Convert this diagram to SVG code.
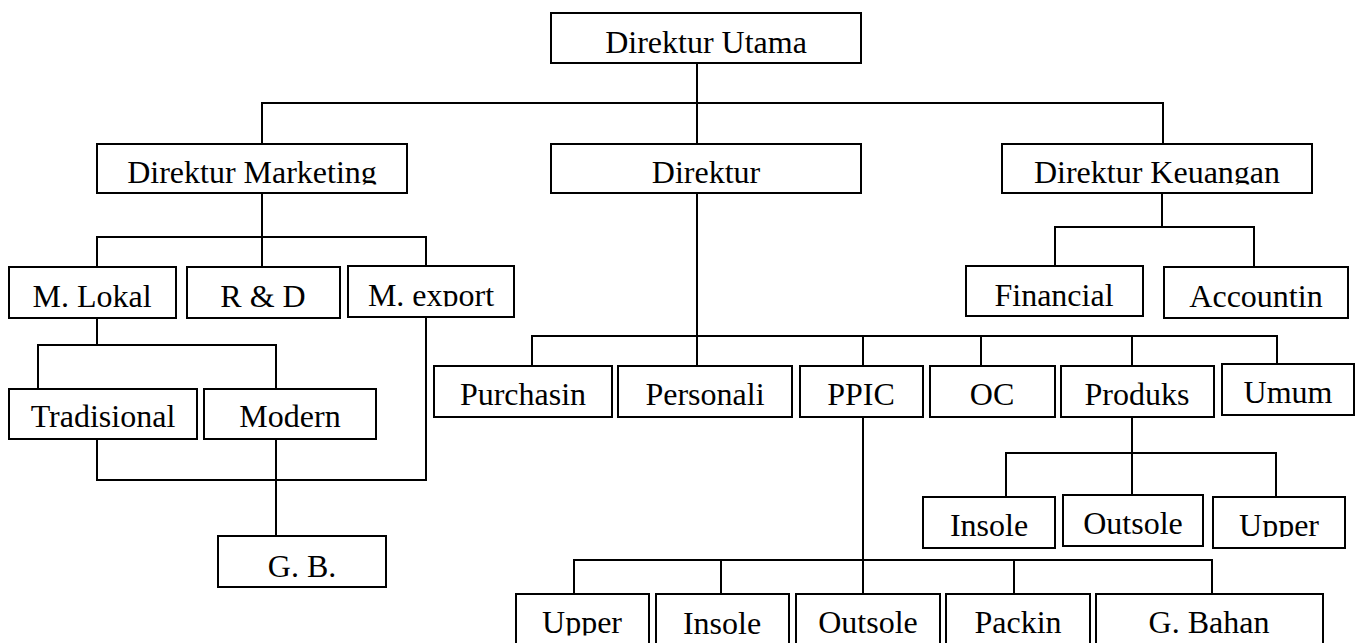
<svg xmlns="http://www.w3.org/2000/svg" width="1362" height="643" viewBox="0 0 1362 643">
<style>
.box{fill:#fff;stroke:#000;stroke-width:2}
.lbl{font-family:"Liberation Serif","Times New Roman",serif;font-size:32px;fill:#000;text-anchor:middle}
.con{stroke:#000;stroke-width:2;fill:none;stroke-linecap:square}
</style>
<defs>
<clipPath id="cMkt"><rect x="97" y="144" width="310" height="40.5"/></clipPath>
<clipPath id="cKeu"><rect x="1002" y="144" width="310" height="40.5"/></clipPath>
<clipPath id="cExp"><rect x="348" y="266" width="166" height="40.5"/></clipPath>
<clipPath id="cUp1"><rect x="1213" y="497" width="132" height="40"/></clipPath>
<clipPath id="cUp2"><rect x="516" y="594" width="133" height="41.5"/></clipPath>
</defs>
<rect width="1362" height="643" fill="#fff"/>
<g id="connectors">
<path class="con" d="M697 63V144M262 103H1163M262 103V144M1163 103V144"/>
<path class="con" d="M262 193V267M97 237H426M97 237V267M426 237V266"/>
<path class="con" d="M97 318V345M38 345H276M38 345V389M276 345V389"/>
<path class="con" d="M97 439V480H426V317M276 439V536"/>
<path class="con" d="M697 193V366M532 336H1277M532 336V366M863 336V366M981 336V366M1132 336V366M1277 336V364"/>
<path class="con" d="M1162 193V227M1055 227H1254M1055 227V266M1254 227V267"/>
<path class="con" d="M1132 417V495M1006 453H1276M1006 453V497M1276 453V497"/>
<path class="con" d="M863 417V594M574 560H1212M574 560V594M721 560V594M1014 560V594M1212 560V594"/>
</g>
<g id="n-utama"><rect class="box" x="551" y="13" width="310" height="50"/><text class="lbl" x="706" y="53">Direktur Utama</text></g>
<g id="n-marketing"><rect class="box" x="97" y="144" width="310" height="49"/><text class="lbl" x="252" y="183" clip-path="url(#cMkt)">Direktur Marketing</text></g>
<g id="n-direktur"><rect class="box" x="551" y="144" width="310" height="49"/><text class="lbl" x="706" y="183">Direktur</text></g>
<g id="n-keuangan"><rect class="box" x="1002" y="144" width="310" height="49"/><text class="lbl" x="1157" y="183" clip-path="url(#cKeu)">Direktur Keuangan</text></g>
<g id="n-mlokal"><rect class="box" x="9" y="267" width="167" height="51"/><text class="lbl" x="92" y="307">M. Lokal</text></g>
<g id="n-rd"><rect class="box" x="187" y="267" width="153" height="51"/><text class="lbl" x="263" y="307">R &amp; D</text></g>
<g id="n-mexport"><rect class="box" x="348" y="266" width="166" height="51"/><text class="lbl" x="431" y="306" clip-path="url(#cExp)">M. export</text></g>
<g id="n-financial"><rect class="box" x="966" y="266" width="177" height="50"/><text class="lbl" x="1054" y="306">Financial</text></g>
<g id="n-accountin"><rect class="box" x="1164" y="267" width="184" height="51"/><text class="lbl" x="1256" y="307">Accountin</text></g>
<g id="n-tradisional"><rect class="box" x="9" y="389" width="188" height="50"/><text class="lbl" x="103" y="427">Tradisional</text></g>
<g id="n-modern"><rect class="box" x="204" y="389" width="172" height="50"/><text class="lbl" x="290" y="427">Modern</text></g>
<g id="n-gb"><rect class="box" x="218" y="536" width="168" height="51"/><text class="lbl" x="302" y="577">G. B.</text></g>
<g id="n-purchasin"><rect class="box" x="434" y="366" width="178" height="51"/><text class="lbl" x="523" y="405">Purchasin</text></g>
<g id="n-personali"><rect class="box" x="618" y="366" width="174" height="51"/><text class="lbl" x="705" y="405">Personali</text></g>
<g id="n-ppic"><rect class="box" x="800" y="366" width="123" height="51"/><text class="lbl" x="861" y="405">PPIC</text></g>
<g id="n-oc"><rect class="box" x="930" y="366" width="125" height="51"/><text class="lbl" x="992" y="405">OC</text></g>
<g id="n-produks"><rect class="box" x="1061" y="366" width="153" height="51"/><text class="lbl" x="1137" y="405">Produks</text></g>
<g id="n-umum"><rect class="box" x="1222" y="364" width="132" height="51"/><text class="lbl" x="1288" y="403">Umum</text></g>
<g id="n-insole1"><rect class="box" x="923" y="497" width="132" height="51"/><text class="lbl" x="989" y="536">Insole</text></g>
<g id="n-outsole1"><rect class="box" x="1063" y="495" width="140" height="51"/><text class="lbl" x="1133" y="534">Outsole</text></g>
<g id="n-upper1"><rect class="box" x="1213" y="497" width="132" height="51"/><text class="lbl" x="1279" y="536" clip-path="url(#cUp1)">Upper</text></g>
<g id="n-upper2"><rect class="box" x="516" y="594" width="133" height="60"/><text class="lbl" x="582" y="633" clip-path="url(#cUp2)">Upper</text></g>
<g id="n-insole2"><rect class="box" x="656" y="594" width="133" height="60"/><text class="lbl" x="722" y="634">Insole</text></g>
<g id="n-outsole2"><rect class="box" x="796" y="594" width="144" height="60"/><text class="lbl" x="868" y="633">Outsole</text></g>
<g id="n-packin"><rect class="box" x="946" y="594" width="144" height="60"/><text class="lbl" x="1018" y="633">Packin</text></g>
<g id="n-gbahan"><rect class="box" x="1096" y="594" width="227" height="60"/><text class="lbl" x="1209" y="633">G. Bahan</text></g>
</svg>
